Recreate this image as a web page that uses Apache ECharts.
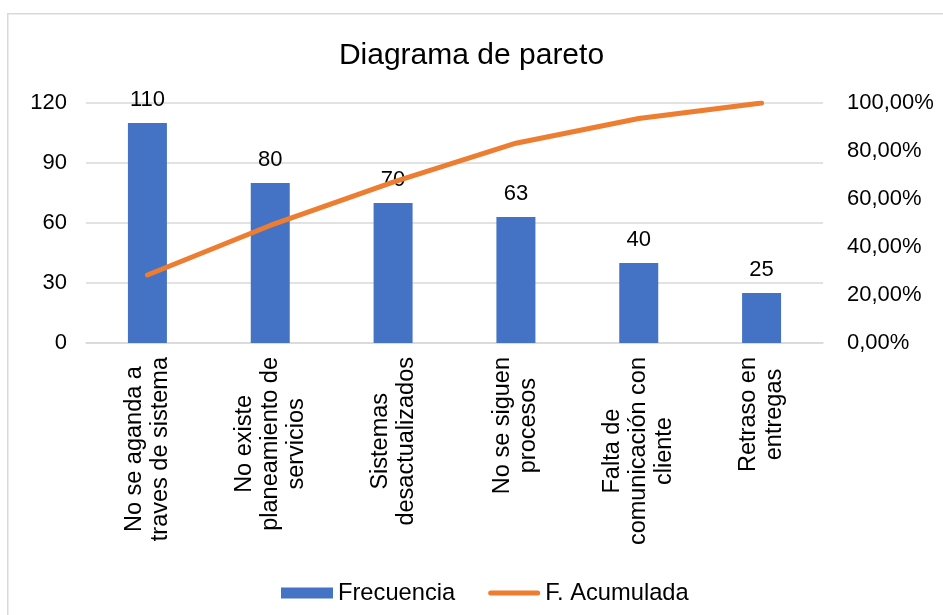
<!DOCTYPE html>
<html>
<head>
<meta charset="utf-8">
<script src="https://cdn.jsdelivr.net/npm/echarts@6/dist/echarts.min.js"></script>
<style>html,body{margin:0;padding:0;background:#fff;}#c{width:943px;height:615px;}</style>
</head>
<body>
<div id="c"></div>
<script>
const categories = ['No se aganda a\ntraves de sistema', 'No existe\nplaneamiento de\nservicios', 'Sistemas\ndesactualizados', 'No se siguen\nprocesos', 'Falta de\ncomunicación con\ncliente', 'Retraso en\nentregas'];
const frecuencia = [110, 80, 70, 63, 40, 25];
const acumulada = [0.2835, 0.4897, 0.6701, 0.8325, 0.9356, 1.0];
const leftTicks = {min: 0, max: 120, interval: 30};
const rightTicks = {min: 0, max: 1, interval: 0.2};

const FONT = 'Liberation Sans, Arial, sans-serif';
const chart = echarts.init(document.getElementById('c'));
chart.setOption({
  animation: false,
  backgroundColor: '#fff',
  graphic: [{
    type: 'rect', left: 7, top: 13, z: -10,
    shape: {width: 1000, height: 700},
    style: {fill: '#fff', stroke: '#d9d9d9', lineWidth: 1.5}
  }],
  title: {
    text: 'Diagrama de pareto', left: 'center', top: 36,
    textStyle: {fontFamily: FONT, fontSize: 30, fontWeight: 'normal', color: '#000'}
  },
  legend: {
    left: 276, top: 576, itemGap: 33,
    textStyle: {fontFamily: FONT, fontSize: 23.7, color: '#000'},
    data: [
      {name: 'Frecuencia', icon: 'rect'},
      {name: 'F. Acumulada', icon: 'path://M0,0 L0,0 M2.5,3 L49.5,3 A2.5,2.5 0 0 1 49.5,8 L2.5,8 A2.5,2.5 0 0 1 2.5,3 Z M52,11 L52,11'}
    ],
    itemWidth: 52, itemHeight: 11
  },
  grid: {left: 86, right: 120, top: 103, bottom: 272},
  xAxis: {
    type: 'category', data: categories,
    axisLine: {lineStyle: {color: '#d9d9d9', width: 1.5}},
    axisTick: {show: false},
    axisLabel: {
      rotate: 90, margin: 14, interval: 0,
      formatter: v => v.split('\n').map(l => '{c|' + l + '}').join('\n'),
      rich: {c: {align: 'center', fontFamily: FONT, fontSize: 23.5, lineHeight: 26, color: '#000'}}
    }
  },
  yAxis: [{
    type: 'value', min: leftTicks.min, max: leftTicks.max, interval: leftTicks.interval,
    axisLine: {show: false}, axisTick: {show: false},
    splitLine: {lineStyle: {color: '#d9d9d9', width: 1.5}},
    axisLabel: {margin: 19, fontFamily: FONT, fontSize: 22, color: '#000'}
  }, {
    type: 'value', min: rightTicks.min, max: rightTicks.max, interval: rightTicks.interval,
    position: 'right',
    axisLine: {show: false}, axisTick: {show: false}, splitLine: {show: false},
    axisLabel: {
      margin: 24, fontFamily: FONT, fontSize: 22, color: '#000',
      formatter: v => (v * 100).toFixed(2).replace('.', ',') + '%'
    }
  }],
  series: [{
    name: 'Frecuencia', type: 'bar', data: frecuencia, barWidth: 39,
    itemStyle: {color: '#4472C4'},
    label: {show: true, position: 'top', distance: 12, fontFamily: FONT, fontSize: 22, color: '#000'}
  }, {
    name: 'F. Acumulada', type: 'line', yAxisIndex: 1, data: acumulada,
    symbol: 'none', smooth: false,
    lineStyle: {color: '#ED7D31', width: 5, cap: 'round', join: 'round'},
    itemStyle: {color: '#ED7D31'}
  }]
});
</script>
</body>
</html>
